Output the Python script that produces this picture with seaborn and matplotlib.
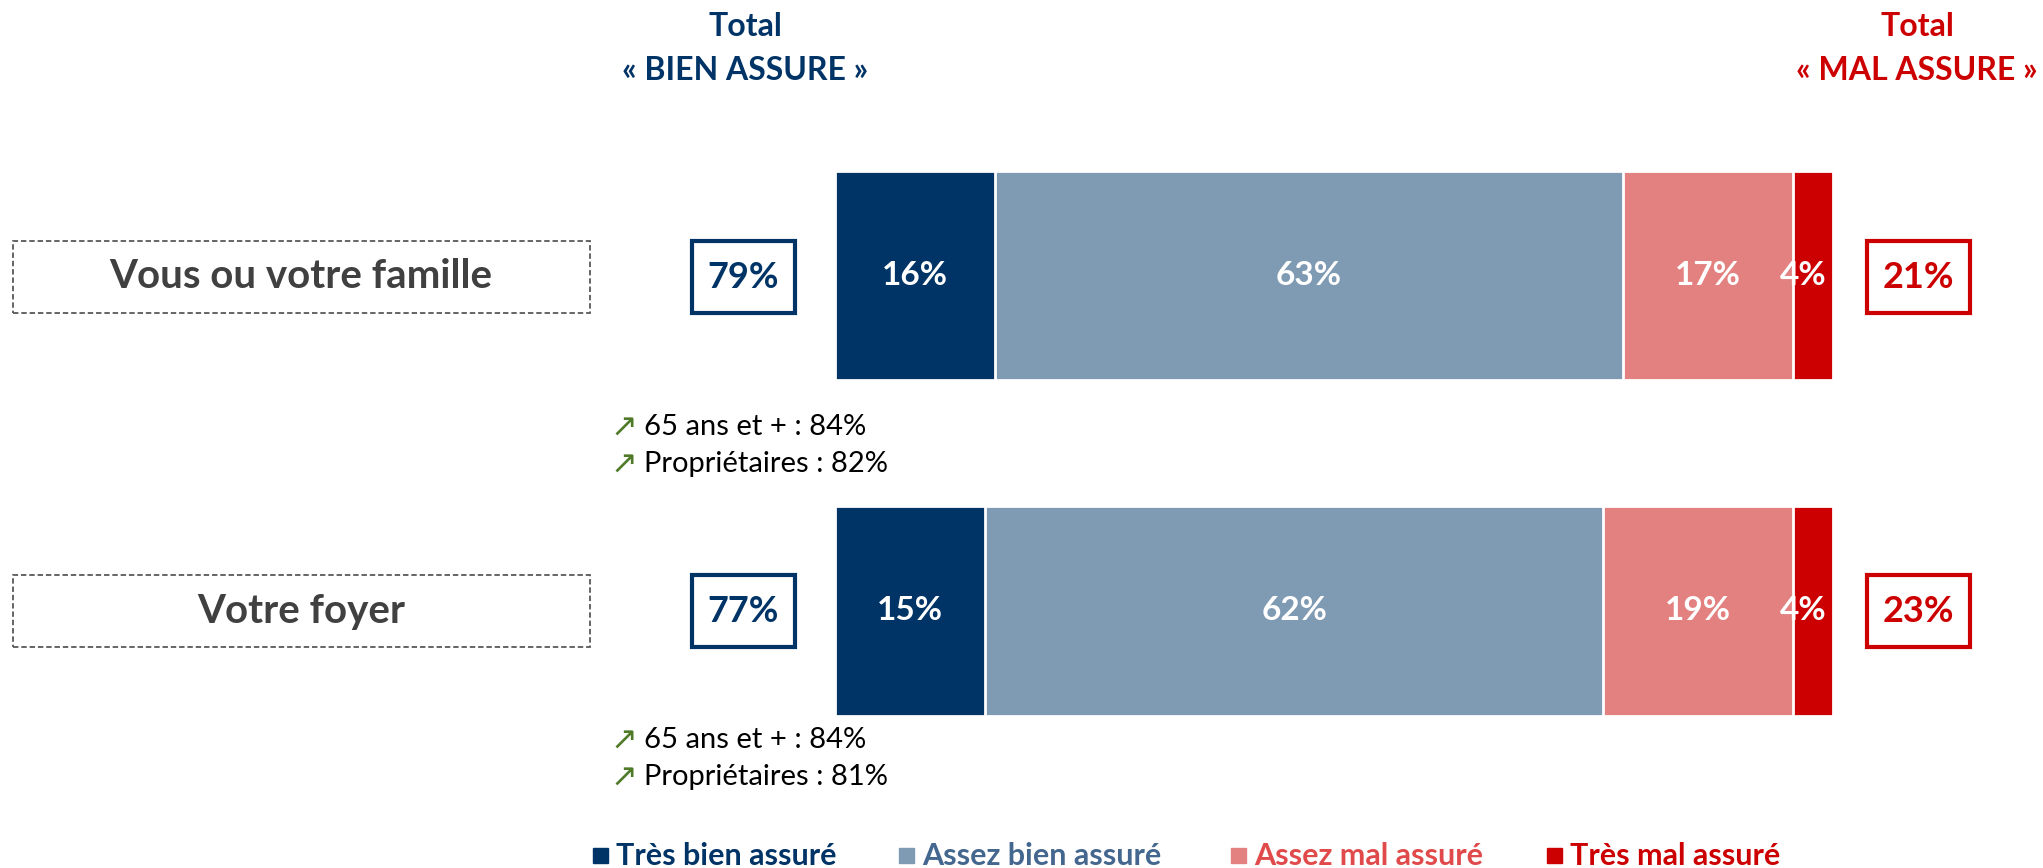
import matplotlib
matplotlib.use("Agg")
import matplotlib.pyplot as plt
from matplotlib.patches import Rectangle
import pandas as pd
import seaborn as sns

# data
items = ["Vous ou votre famille", "Votre foyer"]
levels = ["Très bien assuré", "Assez bien assuré", "Assez mal assuré", "Très mal assuré"]
tres_bien = [16, 15]
assez_bien = [63, 62]
assez_mal = [17, 19]
tres_mal = [4, 4]
total_bien = [79, 77]
total_mal = [21, 23]
hausses = [["65 ans et + : 84%", "Propriétaires : 82%"],
           ["65 ans et + : 84%", "Propriétaires : 81%"]]

NAVY = "#003366"
RED = "#CC0000"
colors = [NAVY, "#7F9AB3", "#E38080", RED]
legend_colors = [NAVY, "#44678F", "#E04A4A", RED]

W, H = 2043, 868

sns.set_theme(style="white")
plt.rcParams["font.family"] = ["Lato", "DejaVu Sans"]

df = pd.DataFrame({"item": items, levels[0]: tres_bien, levels[1]: assez_bien,
                   levels[2]: assez_mal, levels[3]: tres_mal})
cum = df[levels].cumsum(axis=1)
cum["item"] = items

fig = plt.figure(figsize=(W / 100, H / 100), dpi=100)
ax = fig.add_axes([0, 0, 1, 1])

# stacked bars: draw cumulative totals from the longest down
for lvl, col in reversed(list(zip(levels, colors))):
    sns.barplot(data=cum, x=lvl, y="item", orient="h", color=col, saturation=1,
                width=0.623, edgecolor="white", linewidth=2, ax=ax)

# map axes so that 0..100 spans the bar area of the picture
x0, px_per = 835, 9.98
ax.set_xlim(-x0 / px_per, (W - x0) / px_per)
ax.set_ylim((H - 275.5) / 335.5, -275.5 / 335.5)
ax.set_axis_off()

for i in range(len(items)):
    left = 0
    for lvl in levels:
        v = df.loc[i, lvl]
        # small segments: label sits a bit to the left, as in the original
        shift = -1.0 if v < 8 else 0
        ax.text(left + v / 2 + shift, i, f"{v}%", ha="center", va="center",
                color="white", fontsize=24, fontweight="bold")
        left += v


def fx(px):
    return px / W


def fy(py):
    return 1 - py / H


def box(x1, y1, x2, y2, **kw):
    fig.add_artist(Rectangle((fx(x1), fy(y2)), (x2 - x1) / W, (y2 - y1) / H,
                             transform=fig.transFigure, fill=False, **kw))


# headers
for cx, word, col in [(745, "« BIEN ASSURE »", NAVY), (1917, "« MAL ASSURE »", RED)]:
    fig.text(fx(cx), fy(27), "Total", ha="center", va="center", color=col,
             fontsize=23, fontweight="bold")
    fig.text(fx(cx), fy(70), word, ha="center", va="center", color=col,
             fontsize=23, fontweight="bold")

row_y = [277, 611]
hausse_y = [427, 740]
for i, name in enumerate(items):
    cy = row_y[i]
    box(13, cy - 36, 590, cy + 36, edgecolor="#595959", lw=1.3, linestyle=(0, (3, 1.6)))
    fig.text(fx(301), fy(cy), name, ha="center", va="center", color="#404040",
             fontsize=29, fontweight="bold")
    box(692, cy - 36, 795, cy + 36, edgecolor=NAVY, lw=3)
    fig.text(fx(743.5), fy(cy), f"{total_bien[i]}%", ha="center", va="center",
             color=NAVY, fontsize=26, fontweight="bold")
    box(1867, cy - 36, 1970, cy + 36, edgecolor=RED, lw=3)
    fig.text(fx(1918.5), fy(cy), f"{total_mal[i]}%", ha="center", va="center",
             color=RED, fontsize=26, fontweight="bold")
    for k, txt in enumerate(hausses[i]):
        yy = hausse_y[i] + k * 37
        fig.text(fx(610), fy(yy), "↗", ha="left", va="center", color="#4F7A28",
                 fontsize=23, family=["DejaVu Sans"])
        fig.text(fx(644), fy(yy), txt, ha="left", va="center", color="black",
                 fontsize=21)

# legend
sq_x = [593, 899, 1231, 1547]
for lvl, col, tcol, sx in zip(levels, colors, legend_colors, sq_x):
    fig.add_artist(Rectangle((fx(sx), fy(863)), 15 / W, 15 / H,
                             transform=fig.transFigure, color=col))
    fig.text(fx(sx + 23), fy(856), lvl, ha="left", va="center", color=tcol,
             fontsize=22, fontweight="bold")

fig.savefig("out.png", dpi=100, facecolor="white")
